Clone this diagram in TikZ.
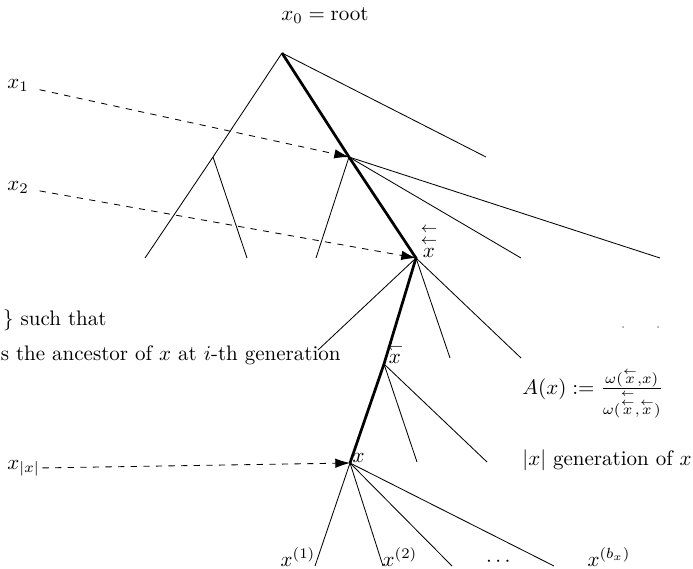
\documentclass[tikz,border=0pt]{standalone}
\usepackage{amsmath}
\usetikzlibrary{arrows.meta}
\newcommand{\px}{\overset{\leftarrow}{x}}
\newcommand{\ppx}{\overset{\leftarrow}{\overset{\leftarrow}{x}}}
\begin{document}
\begin{tikzpicture}[x=0.4762pt,y=-0.4762pt,
  edge/.style={line width=0.4pt},
  spine/.style={line width=1.3pt},
  pointer/.style={dashed,line width=0.4pt,-{Latex[length=7pt,width=4.5pt]}},
  vlabel/.style={inner sep=0pt,anchor=south west},
  txt/.style={inner sep=0pt},
]
\useasboundingbox (0,0) rectangle (693,568);
\clip (0,0) rectangle (693,568);

% vertices
\coordinate (root) at (282,53);
\coordinate (b) at (213,157);
\coordinate (l1) at (145,258);
\coordinate (l2) at (247,258);
\coordinate (r1) at (486,157);
\coordinate (x1) at (349,157);
\coordinate (a1) at (316,258);
\coordinate (a2) at (521,258);
\coordinate (a3) at (660,258);
\coordinate (xx) at (416,258);
\coordinate (d1) at (318,350);
\coordinate (d2) at (450,358);
\coordinate (d3) at (521,358);
\coordinate (xp) at (384,364);
\coordinate (e1) at (417,462);
\coordinate (e2) at (487,462);
\coordinate (x) at (350,463);
\coordinate (c1) at (315,566);
\coordinate (c2) at (383,566);
\coordinate (c3) at (452,566);
\coordinate (c4) at (554,566);

% thin edges
\draw[edge] (root) -- (b) -- (l1);
\draw[edge] (b) -- (l2);
\draw[edge] (root) -- (r1);
\draw[edge] (x1) -- (a1);
\draw[edge] (x1) -- (a2);
\draw[edge] (x1) -- (a3);
\draw[edge] (xx) -- (d1);
\draw[edge] (xx) -- (d2);
\draw[edge] (xx) -- (d3);
\draw[edge] (xp) -- (e1);
\draw[edge] (xp) -- (e2);
\draw[edge] (x) -- (c1);
\draw[edge] (x) -- (c2);
\draw[edge] (x) -- (c3);
\draw[edge] (x) -- (c4);

% ancestral line
\draw[spine] (root) -- (x1) -- (xx) -- (xp) -- (x);

% vertex labels
\node[vlabel] (lxx) at ([xshift=2pt]xx) {$\ppx$};
\node[vlabel] (lxp) at ([xshift=1pt]xp) {$\px$};
\node[vlabel] (lx) at ([xshift=1pt]x) {$x$};
\node[txt,anchor=base] (lroot) at (325,20) {$x_0=\mathrm{root}$};

% generation labels and pointers
\node[txt,anchor=base west] (g1) at (7,88) {$x_1$};
\node[txt,anchor=base west] (g2) at (7,190) {$x_2$};
\node[txt,anchor=base west] (gx) at (7,469) {$x_{|x|}$};
\draw[pointer,shorten <=5pt] (g1) -- (x1);
\draw[pointer,shorten <=5pt] (g2) -- (xx);
\draw[pointer,shorten <=1pt] (gx) -- (x);

% children labels
\node[txt,anchor=base] (k1) at (298,566) {$x^{(1)}$};
\node[txt,anchor=base] (k2) at (400,566) {$x^{(2)}$};
\node[txt,anchor=base] (k3) at (500,566) {$\cdots$};
\node[txt,anchor=base] (k4) at (609,566) {$x^{(b_x)}$};

% texts
\node[txt,anchor=base east] (t1) at (107,325) {$\{x_0,x_1,\ldots,x_{|x|}\}$ such that};
\node[txt,anchor=base east] (t2) at (341,360) {$x_i$ is the ancestor of $x$ at $i$-th generation};
\node[txt,anchor=base west] (tA) at (522,394) {$A(x):=\frac{\omega(\px,x)}{\omega(\ppx,\px)}$};
\node[txt,anchor=base west] (tg) at (522,465) {$|x|$ generation of $x$};

% stray dots
\fill (623,327) circle (0.35pt);
\fill (658,327) circle (0.35pt);
\end{tikzpicture}
\end{document}
